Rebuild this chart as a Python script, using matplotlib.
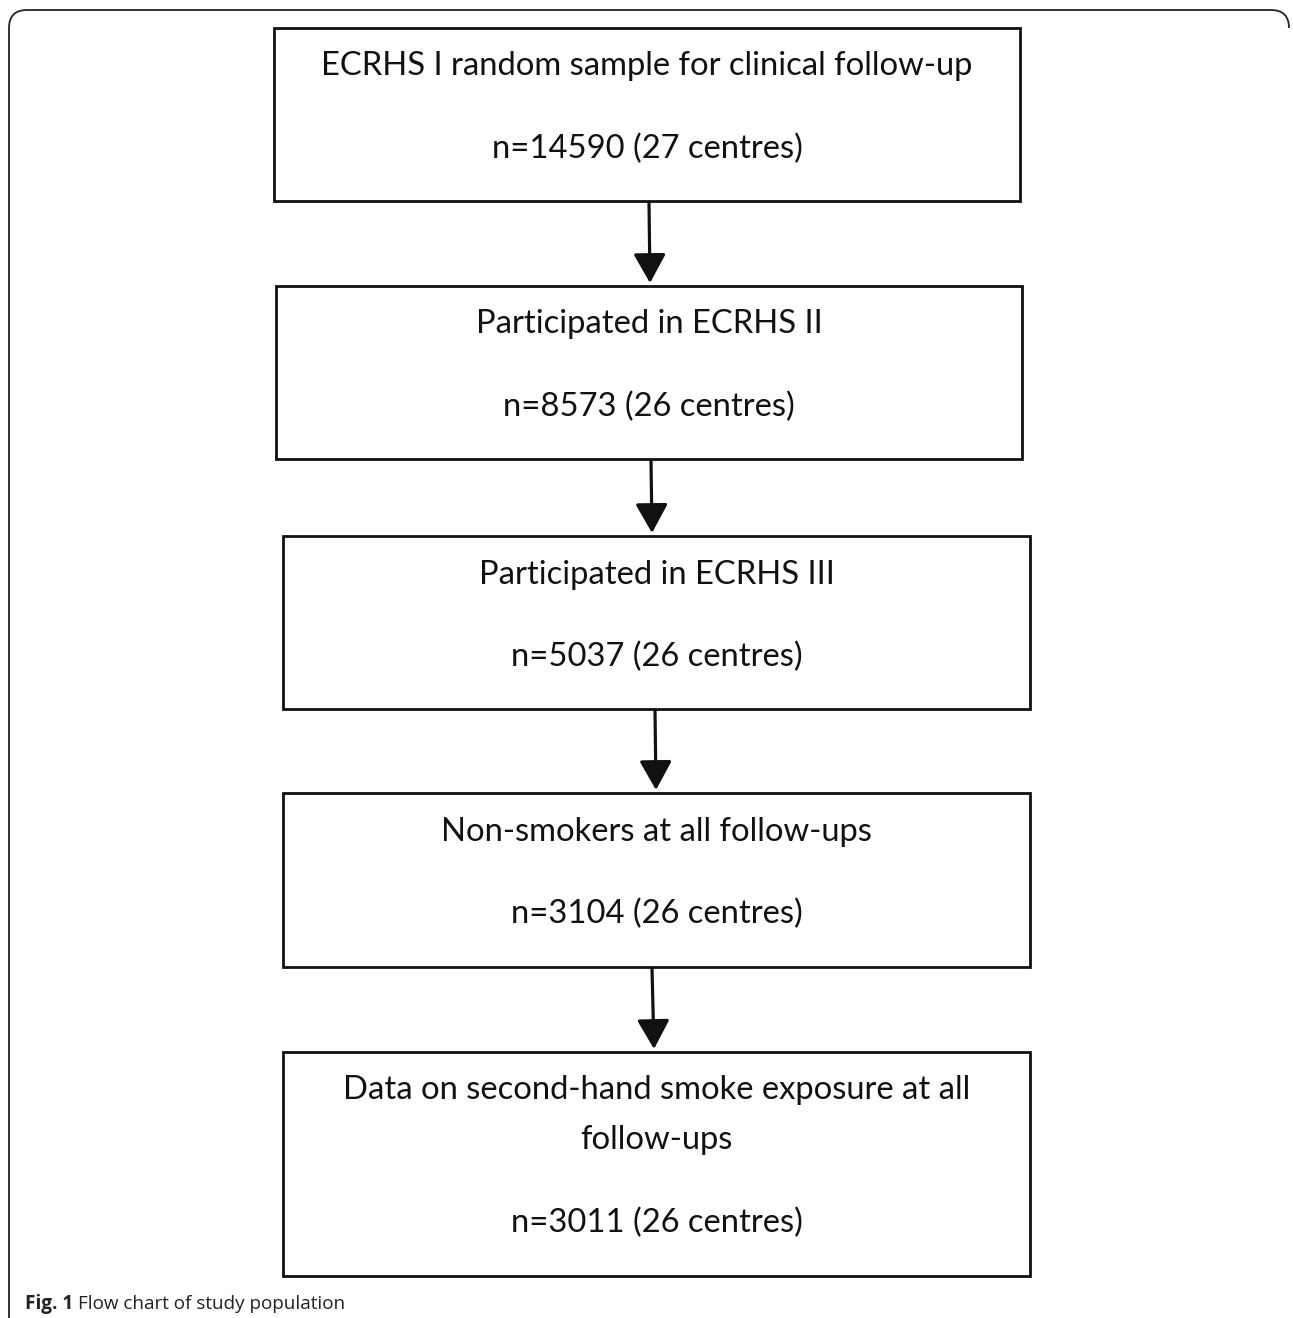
import matplotlib.pyplot as plt
from matplotlib.patches import Rectangle, FancyArrowPatch
from matplotlib.path import Path
from matplotlib.patches import PathPatch

# flow chart content
titles = [
    ["ECRHS I random sample for clinical follow-up"],
    ["Participated in ECRHS II"],
    ["Participated in ECRHS III"],
    ["Non-smokers at all follow-ups"],
    ["Data on second-hand smoke exposure at all", "follow-ups"],
]
counts = [14590, 8573, 5037, 3104, 3011]
centres = [27, 26, 26, 26, 26]
caption_bold = "Fig. 1"
caption_text = "Flow chart of study population"

# box layout in pixel units (left, top, right, bottom)
boxes = [
    (274, 28, 1020, 201),
    (276, 286, 1022, 459),
    (283, 536, 1030, 709),
    (283, 793, 1030, 967),
    (283, 1052, 1030, 1276),
]
title_y = [[66], [324], [575], [832], [1090, 1140]]
count_y = [149, 407, 657, 914, 1223]
# arrow x positions (start, end)
arrow_x = [(649, 650), (651, 652), (655, 656), (652, 654)]

W, H = 1293, 1318
fig = plt.figure(figsize=(W / 100, H / 100), dpi=100)
ax = fig.add_axes([0, 0, 1, 1])
ax.set_xlim(0, W)
ax.set_ylim(H, 0)
ax.axis('off')

font = 'Lato'
fs = 23.6

# outer frame: rounded top, left side down to the bottom
r = 18
verts = [(9, H), (9, 10 + r), (9, 10), (9 + r, 10), (W - 4 - r, 10), (W - 4, 10), (W - 4, 10 + r)]
codes = [Path.MOVETO, Path.LINETO, Path.CURVE3, Path.CURVE3, Path.LINETO, Path.CURVE3, Path.CURVE3]
ax.add_patch(PathPatch(Path(verts, codes), fill=False, lw=1.3, color='#222222'))

for i, (l, t, rgt, b) in enumerate(boxes):
    ax.add_patch(Rectangle((l, t), rgt - l, b - t, fill=False, lw=2, ec='#111111'))
    cx = (l + rgt) / 2
    for line, y in zip(titles[i], title_y[i]):
        ax.text(cx, y, line, ha='center', va='center', fontsize=fs,
                family=font, color='#111111')
    ax.text(cx, count_y[i], f"n={counts[i]} ({centres[i]} centres)", ha='center',
            va='center', fontsize=fs, family=font, color='#111111')

# arrows between consecutive boxes
for i in range(len(boxes) - 1):
    x0, x1 = arrow_x[i]
    ax.add_patch(FancyArrowPatch((x0, boxes[i][3] + 1), (x1, boxes[i + 1][1] - 3),
                                 arrowstyle='-|>,head_length=0.9,head_width=0.5',
                                 mutation_scale=20, lw=2.3, color='#111111',
                                 shrinkA=0, shrinkB=0))

t = ax.text(25, 1304, caption_bold + " ", fontsize=13.6, family='Open Sans',
            fontweight='bold', va='center', ha='left', color='#222222')
fig.canvas.draw()
bb = t.get_window_extent()
ax.text(25 + bb.width, 1304, caption_text, fontsize=13.6, family='Open Sans',
        va='center', ha='left', color='#222222')

fig.savefig('out.png', dpi=100)
